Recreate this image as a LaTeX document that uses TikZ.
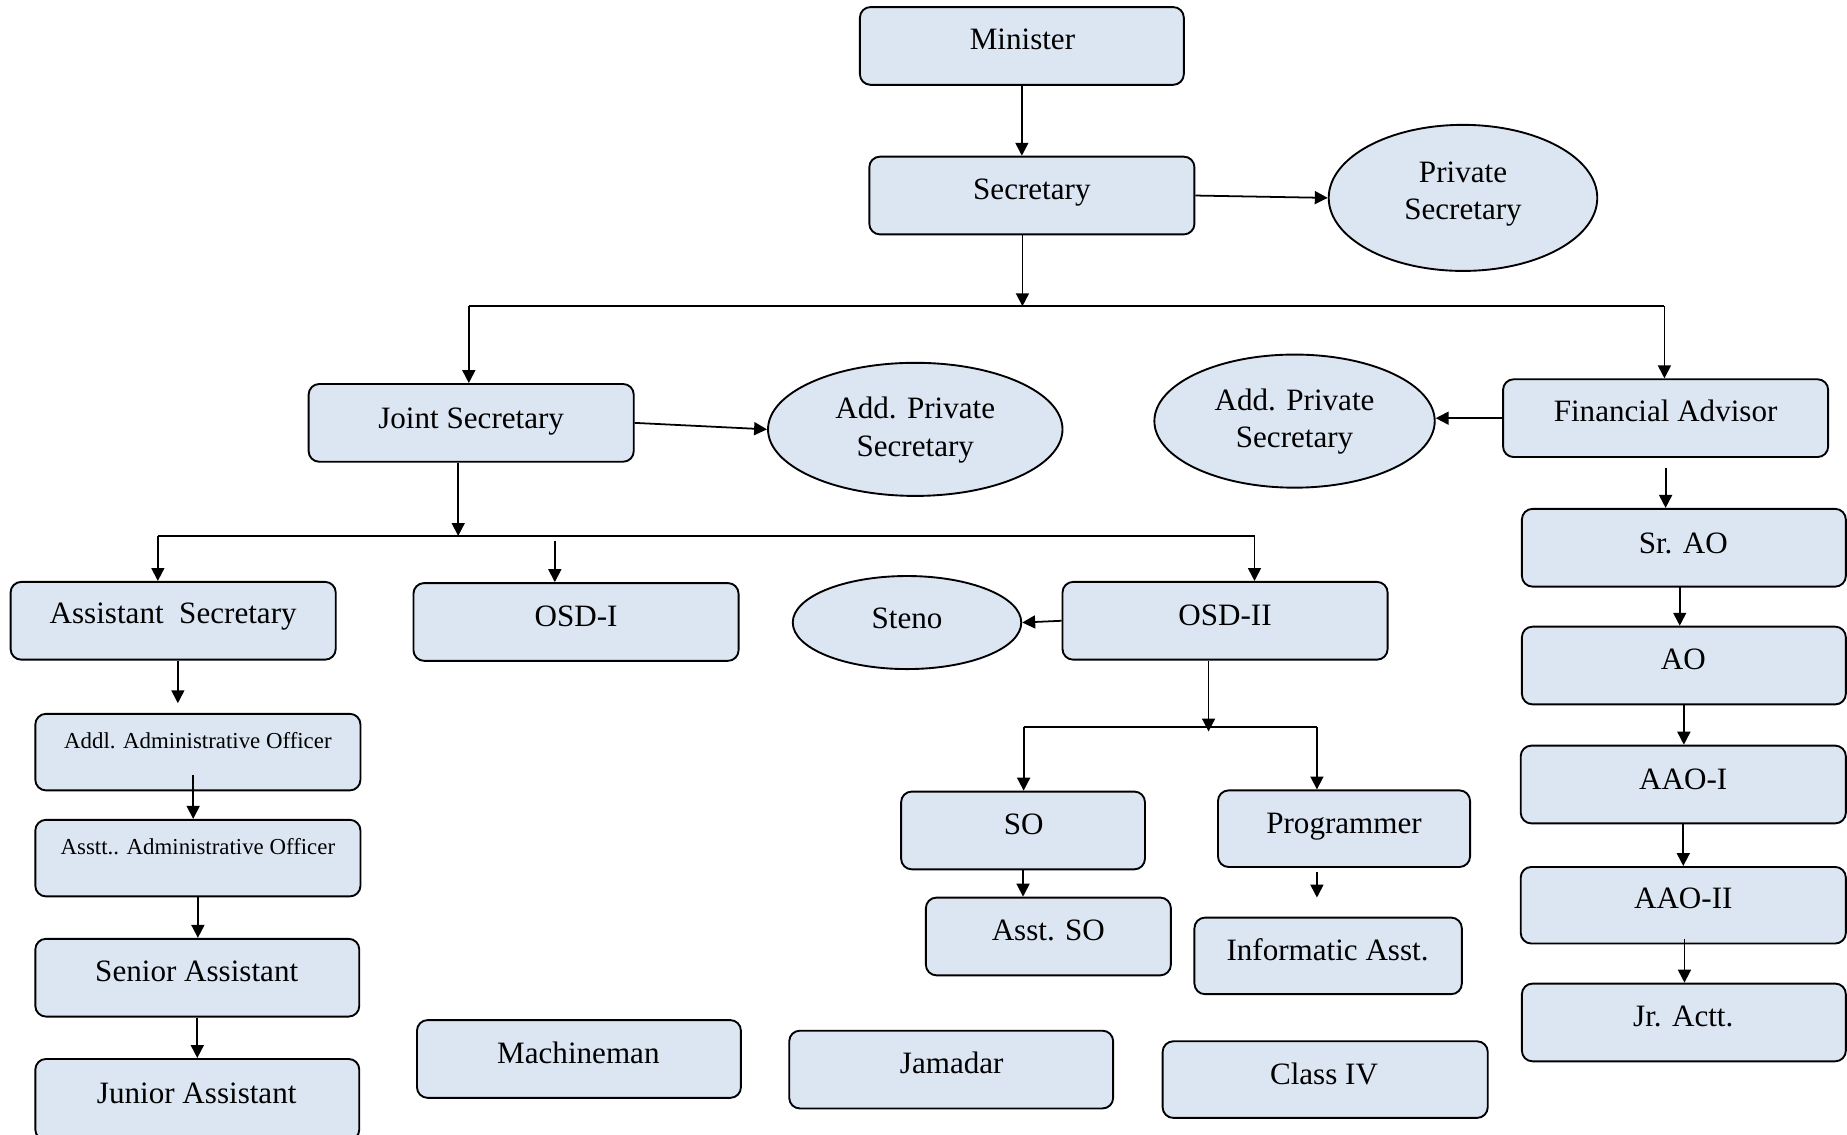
\documentclass[tikz,border=0pt]{standalone}
\usepackage{fontspec}
\setmainfont{Liberation Serif}
\usetikzlibrary{arrows.meta,fit,shapes.geometric}
\definecolor{boxfill}{HTML}{DCE6F2}
\begin{document}
\begin{tikzpicture}[x=0.5pt,y=-0.5pt,
  box/.style={draw=black, fill=boxfill, rounded corners=4.5pt, line width=0.8pt, inner sep=0pt},
  ell/.style={draw=black, fill=boxfill, ellipse, line width=0.8pt, inner sep=0pt},
  txt/.style={font=\fontsize{13.2}{16}\selectfont, inner sep=0pt, text height=0.662em, text depth=0pt, yshift=-1.5pt},
  txttwo/.style={font=\fontsize{13.2}{16}\selectfont, inner sep=0pt, align=center, text height=0.662em, text depth=0pt, yshift=-9.5pt},
  stxt/.style={font=\fontsize{9.7}{12}\selectfont, inner sep=0pt, text height=0.662em, text depth=0pt, yshift=-0.5pt},
  arr/.style={line width=0.75pt, -{Triangle[length=5.5pt,width=5.5pt]}},
  ln/.style={line width=0.75pt}]
\useasboundingbox (0,0) rectangle (1568,963);

% top level
\node[box, fit={(730,6) (1005,72)}] (min) {};
\node[txt] (min-t) at (868,32) {Minister};
\node[box, fit={(738,133) (1014,199)}] (sec) {};
\node[txt] (sec-t) at (876,160) {Secretary};
\node[ell, minimum width=114pt, minimum height=62pt] (ps) at (1242,168) {};
\node[txttwo] (ps-t) at (1242,161) {Private\\Secretary};

% second level
\node[box, fit={(262,326) (538,392)}] (js) {};
\node[txt] (js-t) at (400,354) {Joint Secretary};
\node[ell, minimum width=125pt, minimum height=56.5pt] (aps1) at (777,364.5) {};
\node[txttwo] (aps1-t) at (777,361.5) {Add. Private\\Secretary};
\node[ell, minimum width=119pt, minimum height=56.5pt] (aps2) at (1099,357.5) {};
\node[txttwo] (aps2-t) at (1099,354.5) {Add. Private\\Secretary};
\node[box, fit={(1276,322) (1552,388)}] (fa) {};
\node[txt] (fa-t) at (1414,348) {Financial Advisor};

% third level
\node[box, fit={(9,494) (285,560)}] (as) {};
\node[txt] (as-t) at (147,520) {Assistant\ \ Secretary};
\node[box, fit={(351,495) (627,561)}] (osd1) {};
\node[txt] (osd1-t) at (489,522) {OSD-I};
\node[ell, minimum width=97pt, minimum height=39.5pt] (steno) at (770,528.5) {};
\node[txt] (steno-t) at (770,524) {Steno};
\node[box, fit={(902,494) (1178,560)}] (osd2) {};
\node[txt] (osd2-t) at (1040,521) {OSD-II};

% left column
\node[box, fit={(30,606) (306,671)}] (aao) {};
\node[stxt] (aao-t) at (168,628) {Addl. Administrative Officer};
\node[box, fit={(30,696) (306,761)}] (sao) {};
\node[stxt] (sao-t) at (168,718) {Asstt.. Administrative Officer};
\node[box, fit={(30,797) (305,863)}] (sen) {};
\node[txt] (sen-t) at (167,824) {Senior Assistant};
\node[box, fit={(30,899) (305,968)}] (jun) {};
\node[txt] (jun-t) at (167,927) {Junior Assistant};

% OSD-II branch
\node[box, fit={(765,672) (972,738)}] (so) {};
\node[txt] (so-t) at (869,699) {SO};
\node[box, fit={(1034,671) (1248,736)}] (prog) {};
\node[txt] (prog-t) at (1141,698) {Programmer};
\node[box, fit={(786,762) (994,828)}] (aso) {};
\node[txt] (aso-t) at (890,789) {Asst. SO};
\node[box, fit={(1014,779) (1241,844)}] (ia) {};
\node[txt] (ia-t) at (1127,806) {Informatic Asst.};

% bottom row
\node[box, fit={(354,866) (629,932)}] (mach) {};
\node[txt] (mach-t) at (491,893) {Machineman};
\node[box, fit={(670,875) (945,941)}] (jam) {};
\node[txt] (jam-t) at (808,902) {Jamadar};
\node[box, fit={(987,884) (1263,949)}] (c4) {};
\node[txt] (c4-t) at (1124,911) {Class IV};

% finance column
\node[box, fit={(1292,432) (1567,498)}] (srao) {};
\node[txt] (srao-t) at (1429,460) {Sr. AO};
\node[box, fit={(1292,532) (1567,598)}] (ao) {};
\node[txt] (ao-t) at (1429,559) {AO};
\node[box, fit={(1291,633) (1567,699)}] (aao1) {};
\node[txt] (aao1-t) at (1429,661) {AAO-I};
\node[box, fit={(1291,736) (1567,801)}] (aao2) {};
\node[txt] (aao2-t) at (1429,762) {AAO-II};
\node[box, fit={(1292,835) (1567,901)}] (jr) {};
\node[txt] (jr-t) at (1429,862) {Jr. Actt.};

% connectors: top
\draw[arr] (min.south) -- (min.south |- sec.north);
\draw[arr] (sec.east) -- (ps.west);
\coordinate (j1) at (868,260);
\coordinate (j1l) at (398,260);
\coordinate (j1r) at (1413,260);
\draw[arr] (sec.south -| j1) -- (j1);
\draw[ln] (j1l) -- (j1r);
\draw[arr] (j1l) -- (j1l |- js.north);
\draw[arr] (j1r) -- (j1r |- fa.north);
\draw[arr] (js.east) -- (aps1.west);
\draw[arr] (fa.west) -- (aps2.east |- fa.west);

% joint secretary branch
\coordinate (j2) at (389,455);
\coordinate (j2l) at (134,455);
\coordinate (j2r) at (1065,455);
\coordinate (o1s) at (471,459);
\draw[arr] (js.south -| j2) -- (j2);
\draw[ln] (j2l) -- (j2r);
\draw[arr] (j2l) -- (j2l |- as.north);
\draw[arr] (o1s) -- (o1s |- osd1.north);
\draw[arr] (j2r) -- (j2r |- osd2.north);

% left column arrows
\coordinate (a1) at (151,597);
\coordinate (a2) at (164,658);
\draw[arr] (as.south -| a1) -- (a1);
\draw[arr] (a2) -- (a2 |- sao.north);
\draw[arr] (sao.south) -- (sao.south |- sen.north);
\draw[arr] (sen.south) -- (sen.south |- jun.north);

% OSD-II branch arrows
\draw[arr] (osd2.west) -- (steno.east);
\coordinate (j3) at (1026,621);
\coordinate (j3l) at (869,617);
\coordinate (j3r) at (1118,617);
\draw[arr] (osd2.south -| j3) -- (j3);
\draw[ln] (j3l) -- (j3r);
\draw[arr] (j3l) -- (j3l |- so.north);
\draw[arr] (j3r) -- (j3r |- prog.north);
\draw[arr] (so.south) -- (so.south |- aso.north);
\coordinate (p1) at (1118,740);
\coordinate (p2) at (1118,762);
\draw[arr] (p1) -- (p2);

% finance column arrows
\coordinate (f1) at (1414,397);
\coordinate (f2) at (1426,498);
\coordinate (f3) at (1430,797);
\draw[arr] (f1) -- (f1 |- srao.north);
\draw[arr] (f2) -- (f2 |- ao.north);
\draw[arr] (ao.south) -- (ao.south |- aao1.north);
\draw[arr] (aao1.south) -- (aao1.south |- aao2.north);
\draw[arr] (f3) -- (f3 |- jr.north);
\end{tikzpicture}
\end{document}
